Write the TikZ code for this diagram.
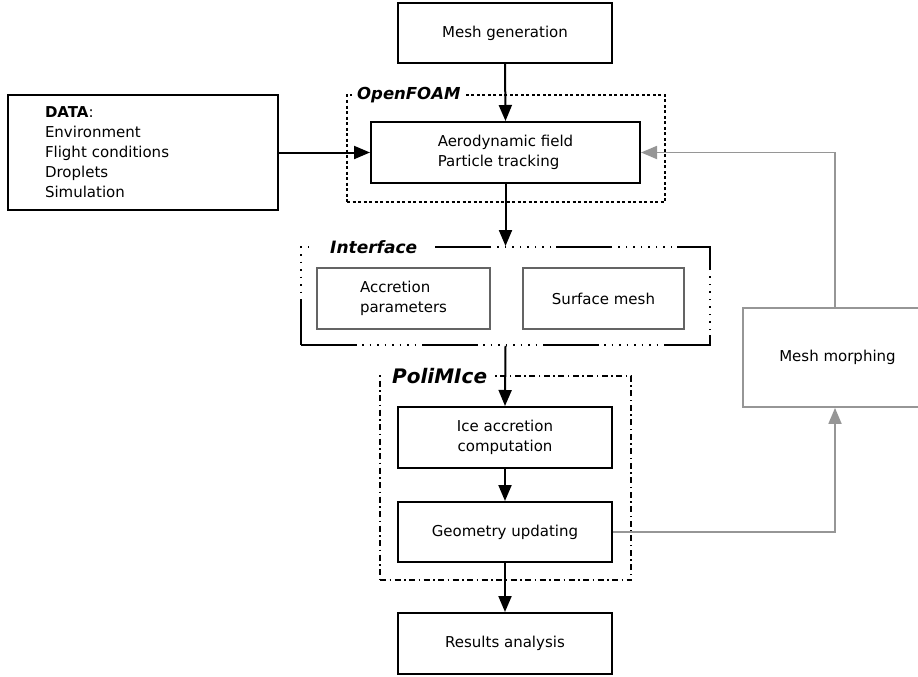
\documentclass[tikz,border=0pt]{standalone}
\usepackage{fontspec}
\setmainfont{DejaVu Sans}
\usetikzlibrary{arrows.meta}
\definecolor{boxgray}{RGB}{100,100,100}
\definecolor{linegray}{RGB}{150,150,150}
\tikzset{
  box/.style={draw, line width=2pt, minimum width=214pt, minimum height=61pt, align=center},
  subbox/.style={draw=boxgray, line width=1.4pt, minimum height=61pt, align=left},
  framelabel/.style={fill=white, font=\bfseries\itshape, inner ysep=1pt},
  link/.style={line width=2pt, -{Triangle[length=16pt,width=13pt]}},
  graylink/.style={draw=linegray, line width=1.8pt, -{Triangle[length=16pt,width=13pt]}}
}
\begin{document}
\begin{tikzpicture}[x=1pt, y=-1pt, font=\fontsize{15}{20}\selectfont]
  \useasboundingbox (0,0) rectangle (918,677);
  \node[draw, line width=1.6pt, dash pattern=on 3pt off 2.5pt,
    minimum width=318pt, minimum height=107pt] (foam) at (506,148.5) {};
  \node[draw, line width=1.9pt,
    dash pattern=on 56pt off 5pt on 1.5pt off 6pt on 1.5pt off 6pt on 1.5pt off 6pt
      on 1.5pt off 6pt on 1.5pt off 6pt on 1.5pt off 6pt on 1.5pt off 6pt on 1.5pt off 6pt,
    minimum width=409pt, minimum height=98pt] (iface) at (505.5,296) {};
  \node[draw, line width=1.8pt, dash pattern=on 6pt off 3.5pt on 1.5pt off 3.5pt,
    minimum width=251pt, minimum height=204pt] (poli) at (505.5,478) {};
  \node[framelabel, anchor=west, inner xsep=5pt, font=\fontsize{16.5}{20}\selectfont\bfseries\itshape] (foamlabel) at (352,95) {OpenFOAM};
  \node[framelabel, anchor=west, inner xsep=16pt, font=\fontsize{17}{20}\selectfont\bfseries\itshape] (ifacelabel) at (314,247) {Interface};
  \node[framelabel, anchor=west, inner xsep=8pt, font=\fontsize{20}{22}\selectfont\bfseries\itshape] (polilabel) at (384,376) {PoliMIce};

  \node[box, minimum height=60pt] (mesh) at (505,33) {Mesh generation};
  \node[box, minimum width=270pt, minimum height=115pt, text width=196pt, align=left] (data) at (143,152.5)
    {\textbf{DATA}:\\Environment\\Flight conditions\\Droplets\\Simulation};
  \node[box, minimum width=269pt, align=left] (aero) at (505.5,152.5) {Aerodynamic field\\Particle tracking};
  \node[subbox, minimum width=173pt] (accr) at (403.5,298.5) {Accretion\\parameters};
  \node[subbox, minimum width=161pt] (surf) at (603.5,298.5) {Surface mesh};
  \node[box] (ice) at (505,437.5) {Ice accretion\\computation};
  \node[box, minimum height=60pt] (geom) at (505,532) {Geometry updating};
  \node[box] (res) at (505,643.5) {Results analysis};
  \node[draw=linegray, line width=1.8pt, minimum width=184pt, minimum height=99pt] (morph) at (835,357.5) {\hspace{5pt}Mesh morphing};

  \draw[link] (mesh.south) -- (aero.north);
  \draw[link] (data.east) -- (aero.west);
  \draw[link] (aero.south) -- (iface.north);
  \draw[link] (iface.south) -- (ice.north);
  \draw[link] (ice.south) -- (geom.north);
  \draw[link] (geom.south) -- (res.north);
  \draw[graylink] (geom.east) -| (morph.south);
  \draw[graylink] (morph.north) |- (aero.east);
\end{tikzpicture}
\end{document}
